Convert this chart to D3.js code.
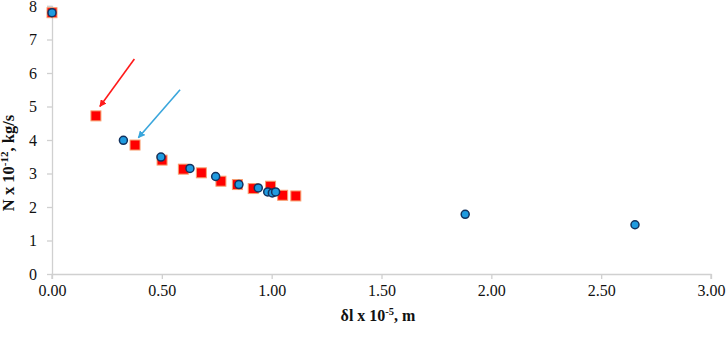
<!DOCTYPE html>
<html>
<head>
<meta charset="utf-8">
<script src="https://cdn.jsdelivr.net/npm/d3@7"></script>
<style>
  body { margin: 0; background: #fff; }
  .axis path, .axis line { stroke: #d0d0d0; stroke-width: 1.3; }
</style>
</head>
<body>
<svg id="chart" width="726" height="337"></svg>
<script>
const serif = "'Liberation Serif', 'DejaVu Serif', 'Times New Roman', serif";

// red squares series
const squareX = [0.00, 0.200, 0.378, 0.501, 0.598, 0.680, 0.769, 0.844, 0.916, 0.995, 1.050, 1.110];
const squareY = [7.80, 4.72, 3.85, 3.40, 3.13, 3.02, 2.77, 2.67, 2.55, 2.62, 2.35, 2.33];

// blue circles series
const circleX = [0.00, 0.325, 0.496, 0.628, 0.745, 0.851, 0.939, 0.982, 1.003, 1.018, 1.881, 2.654];
const circleY = [7.80, 3.99, 3.49, 3.15, 2.91, 2.67, 2.57, 2.45, 2.42, 2.45, 1.78, 1.47];

const xTicks = [0, 0.5, 1.0, 1.5, 2.0, 2.5, 3.0];
const yTicks = [0, 1, 2, 3, 4, 5, 6, 7, 8];

// annotation arrows, in data units
const arrows = [
    {from: [0.375, 6.42], to: [0.218, 5.00], color: "#ff1a1a"},
    {from: [0.583, 5.50], to: [0.393, 4.07], color: "#3aa6dc"}
];

const margin = {top: 6, right: 15, bottom: 63, left: 52};
const width = 726 - margin.left - margin.right;
const height = 337 - margin.top - margin.bottom;

const svg = d3.select("#chart");
const g = svg.append("g")
    .attr("transform", `translate(${margin.left},${margin.top})`);

const x = d3.scaleLinear().domain([0, 3]).range([0, width]);
const y = d3.scaleLinear().domain([0, 8]).range([height, 0]);

g.append("g")
    .attr("class", "axis")
    .call(d3.axisLeft(y).tickValues(yTicks).tickFormat(d3.format("d")).tickSize(5).tickPadding(10))
    .attr("font-family", serif)
    .attr("font-size", 16)
    .call(a => a.select(".domain").attr("d", `M-5,0.5H0.5V${height}`))
    .call(a => a.selectAll("text").attr("fill", "#111"));

g.append("g")
    .attr("class", "axis")
    .attr("transform", `translate(0,${height})`)
    .call(d3.axisBottom(x).tickValues(xTicks).tickFormat(d3.format(".2f")).tickSize(5).tickPadding(6))
    .attr("font-family", serif)
    .attr("font-size", 16)
    .call(a => a.select(".domain").attr("d", `M0,5V0.5H${width}V5`))
    .call(a => a.selectAll("text").attr("fill", "#111"));

// arrowheads
const defs = svg.append("defs");
arrows.forEach((a, i) => {
    defs.append("marker")
        .attr("id", "head" + i)
        .attr("viewBox", "0 0 10 10")
        .attr("refX", 9).attr("refY", 5)
        .attr("markerWidth", 4.5).attr("markerHeight", 4.5)
        .attr("markerUnits", "strokeWidth")
        .attr("orient", "auto")
        .append("path")
        .attr("d", "M0,0L10,5L0,10z")
        .attr("fill", a.color);
});

g.selectAll(".arrow")
    .data(arrows)
    .join("line")
    .attr("class", "arrow")
    .attr("x1", d => x(d.from[0]))
    .attr("y1", d => y(d.from[1]))
    .attr("x2", d => x(d.to[0]))
    .attr("y2", d => y(d.to[1]))
    .attr("stroke", d => d.color)
    .attr("stroke-width", 1.6)
    .attr("marker-end", (d, i) => `url(#head${i})`);

const sq = 10;
g.selectAll(".sq")
    .data(squareX.map((v, i) => [v, squareY[i]]))
    .join("rect")
    .attr("class", "sq")
    .attr("x", d => x(d[0]) - sq / 2)
    .attr("y", d => y(d[1]) - sq / 2)
    .attr("width", sq)
    .attr("height", sq)
    .attr("fill", "#ff0000")
    .attr("stroke", "#f8a070")
    .attr("stroke-width", 1);

g.selectAll(".ci")
    .data(circleX.map((v, i) => [v, circleY[i]]))
    .join("circle")
    .attr("class", "ci")
    .attr("cx", d => x(d[0]))
    .attr("cy", d => y(d[1]))
    .attr("r", 4)
    .attr("fill", "#1f9be0")
    .attr("stroke", "#13325e")
    .attr("stroke-width", 1.5);

// axis titles
const yTitle = svg.append("text")
    .attr("transform", "translate(14,163) rotate(-90)")
    .attr("text-anchor", "middle")
    .attr("font-family", serif)
    .attr("font-size", 16.5)
    .attr("font-weight", "bold")
    .attr("fill", "#111");
yTitle.append("tspan").text("N x 10");
yTitle.append("tspan").attr("font-size", 11).attr("dy", -6).text("-12");
yTitle.append("tspan").attr("dy", 6).text(", kg/s");

const xTitle = svg.append("text")
    .attr("x", 378)
    .attr("y", 321)
    .attr("text-anchor", "middle")
    .attr("font-family", serif)
    .attr("font-size", 16)
    .attr("font-weight", "bold")
    .attr("fill", "#111");
xTitle.append("tspan").text("δl x 10");
xTitle.append("tspan").attr("font-size", 10.5).attr("dy", -6).text("-5");
xTitle.append("tspan").attr("dy", 6).text(", m");
</script>
</body>
</html>
